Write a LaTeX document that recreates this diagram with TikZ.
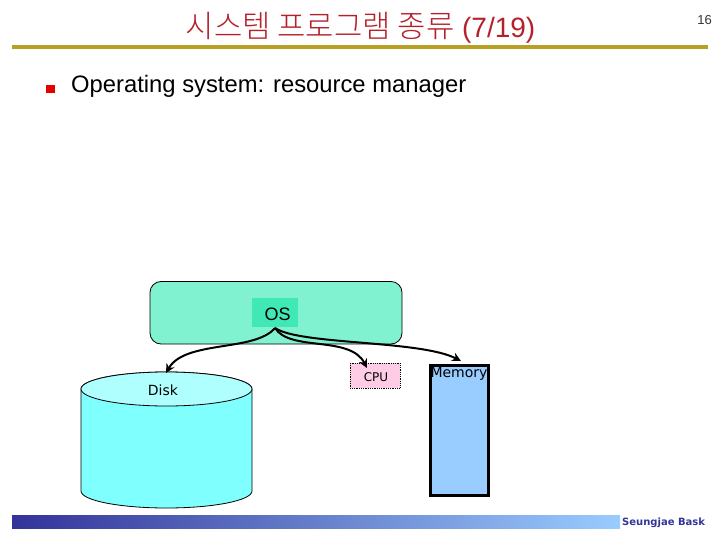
\documentclass[tikz,border=0pt]{standalone}
\usepackage{fontspec}
\setmainfont{Liberation Sans}
\newfontfamily\cjk{Noto Sans CJK KR Light}[Scale=1.10]
\newfontfamily\dejav{DejaVu Sans}
\usetikzlibrary{arrows.meta,shapes.geometric}
\definecolor{titlered}{HTML}{B5202A}
\definecolor{rulegold}{HTML}{B8A024}
\definecolor{osgreen}{HTML}{80F2CF}
\definecolor{osdark}{HTML}{3FE8B4}
\definecolor{diskcyan}{HTML}{80FFFF}
\definecolor{disktop}{HTML}{B0FFFF}
\definecolor{cpupink}{HTML}{FFCCE5}
\definecolor{memblue}{HTML}{99CCFF}
\definecolor{barblue}{HTML}{333399}
\tikzset{
  label text/.style={inner sep=0pt,text=black},
  conn/.style={line width=2pt,-{Stealth[length=9pt,width=9pt]}},
}
\begin{document}
\begin{tikzpicture}[x=1pt,y=-1pt]
\useasboundingbox (0,0) rectangle (720,540);
% title
\node[label text,text=titlered,font=\fontsize{28}{30}\selectfont,anchor=base] (title) at (360.5,38) {{\cjk 시스템 프로그램 종류} (7/19)};
\node[label text,text=black!80,font=\fontsize{13}{14}\selectfont,anchor=base east] (page) at (712,25) {16};
\fill[rulegold] (12,45) rectangle (708,49);
% bullet
\fill[red!90!black] (46,85) rectangle (55,93);
\node[label text,font=\fontsize{23.8}{28}\selectfont,anchor=base west] (head) at (71,93) {Operating system: resource manager};
% OS block
\draw[fill=osgreen,line width=0.8pt,rounded corners=11pt] (150,281.5) rectangle (402,344);
\fill[osdark] (252,298) rectangle (298,327);
\node[label text,font=\fontsize{18}{22}\selectfont] (os) at (277.5,314) {OS};
\coordinate (osout) at (275,328);
% disk
\path[fill=diskcyan,draw=black,line width=0.8pt] (81,389) -- (81,491) arc[start angle=180,end angle=0,x radius=85.5,y radius=17] -- (252,389) arc[start angle=0,end angle=-180,x radius=85.5,y radius=17] -- cycle;
\draw[fill=disktop,line width=0.8pt] (166.5,389) ellipse[x radius=85.5,y radius=17];
\node[label text,font=\fontsize{14}{16}\selectfont\dejav] (disk) at (163,390) {Disk};
\coordinate (diskin) at (166,373);
% cpu
\draw[fill=cpupink,densely dotted,line width=0.8pt] (350,363) rectangle (400,388);
\node[label text,font=\fontsize{12}{14}\selectfont\dejav] (cpu) at (376,377.5) {CPU};
\coordinate (cpuin) at (367,368);
% memory
\draw[fill=memblue,line width=3pt] (430,365) rectangle (488,495);
\node[label text,font=\fontsize{14}{16}\selectfont\dejav] (mem) at (459,374) {Memory};
\coordinate (memin) at (461,361);
% connectors
\draw[conn] (osout) .. controls (255,352) and (185,340) .. (diskin);
\draw[conn] (osout) .. controls (290,352) and (350,335) .. (cpuin);
\draw[conn] (osout) .. controls (300,345) and (420,340) .. (memin);
% footer
\shade[left color=barblue,right color=memblue] (12,515) rectangle (620,528);
\node[label text,text=barblue,font=\fontsize{10}{13}\selectfont\bfseries\dejav,anchor=base west] (foot) at (622,525) {Seungjae Bask};
\end{tikzpicture}
\end{document}
